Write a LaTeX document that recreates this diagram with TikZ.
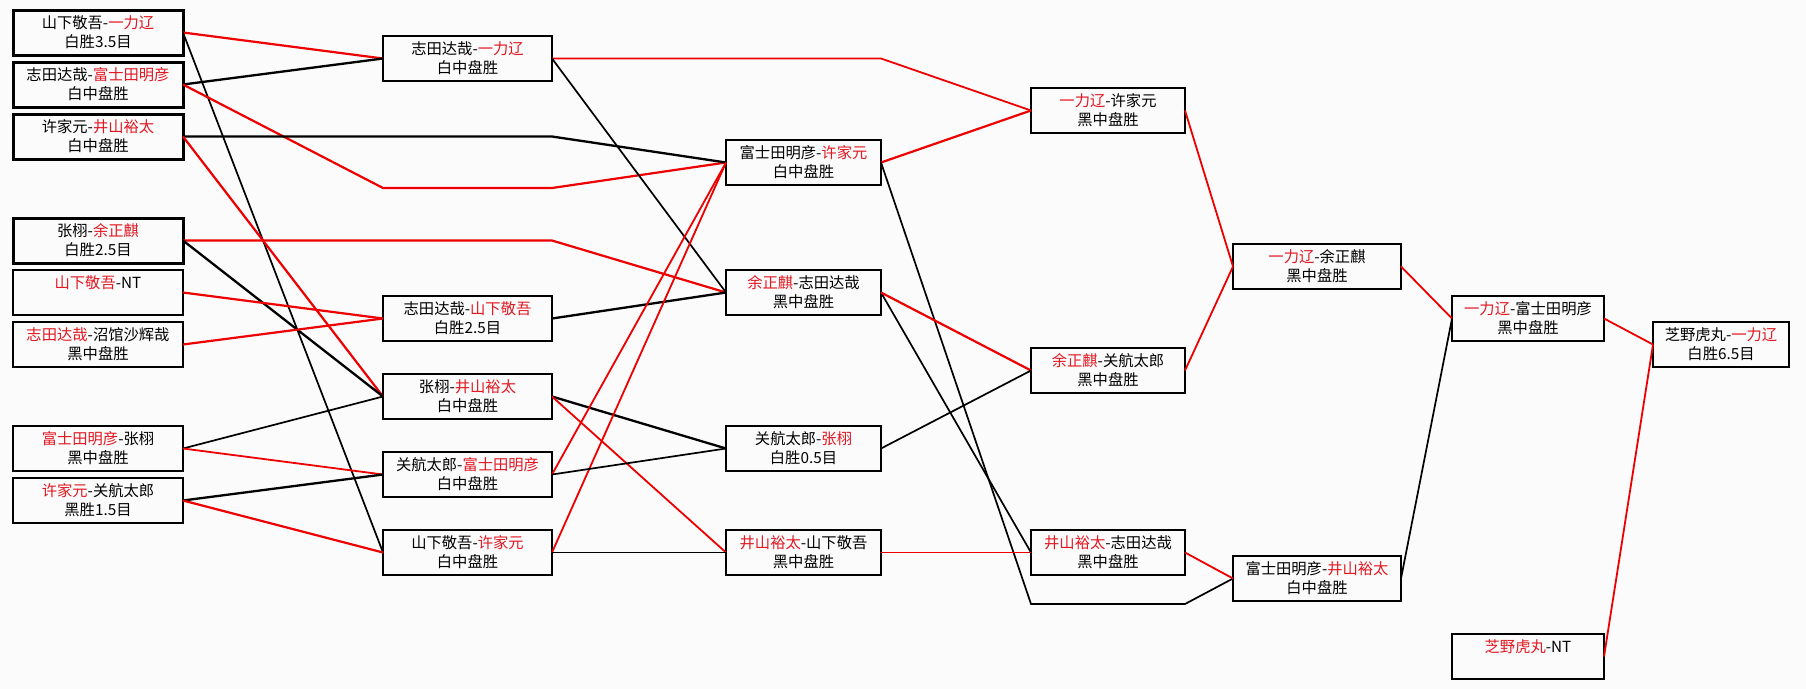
\documentclass[tikz,border=0pt]{standalone}
\usepackage{fontspec}
\setmainfont{Noto Sans CJK SC}
\definecolor{tred}{RGB}{226,24,34}
\definecolor{lred}{RGB}{238,0,0}
\definecolor{bgc}{RGB}{251,251,251}
\newcommand{\winner}[1]{\textcolor{tred}{#1}}
\newcommand{\boxfont}{\fontsize{15.3pt}{19pt}\selectfont}
\begin{document}
\begin{tikzpicture}[x=1pt,y=-1pt,
  bx/.style={draw=black, line width=#1, minimum height=45pt, inner sep=0pt, outer sep=0pt, align=center, font=\boxfont},
  bx/.default=1.8pt,
  cA/.style={minimum width=170pt},
  cB/.style={minimum width=169pt},
  cC/.style={minimum width=155pt},
  cD/.style={minimum width=154pt},
  cE/.style={minimum width=168pt},
  cF/.style={minimum width=152pt},
  cG/.style={minimum width=136pt},
  rthk/.style={draw=lred, line width=2.2pt},
  rthn/.style={draw=lred, line width=1.8pt},
  bthk/.style={draw=black, line width=2.3pt},
  bthn/.style={draw=black, line width=1.7pt}
]
\useasboundingbox (0,0) rectangle (1806,689);
\fill[bgc] (0,0) rectangle (1806,689);

% boxes
\node[bx=3pt, cA] (A1) at (98,32.5)  {山下敬吾-\winner{一力辽}\\白胜3.5目};
\node[bx=3pt, cA] (A2) at (98,84.5)  {志田达哉-\winner{富士田明彦}\\白中盘胜};
\node[bx=3pt, cA] (A3) at (98,136.5) {许家元-\winner{井山裕太}\\白中盘胜};
\node[bx=3pt, cA] (A4) at (98,240.5) {张栩-\winner{余正麒}\\白胜2.5目};
\node[bx=1.9pt, cA] (A5) at (98,292.5) {\winner{山下敬吾}-NT\\\phantom{白}};
\node[bx=2.5pt, cA] (A6) at (98,344.5) {\winner{志田达哉}-沼馆沙辉哉\\黑中盘胜};
\node[bx=1.7pt, cA] (A7) at (98,448.5) {\winner{富士田明彦}-张栩\\黑中盘胜};
\node[bx=2.5pt, cA] (A8) at (98,500.5) {\winner{许家元}-关航太郎\\黑胜1.5目};

\node[bx=1.9pt, cB] (B1) at (467.5,58.5)  {志田达哉-\winner{一力辽}\\白中盘胜};
\node[bx=1.9pt, cB] (B2) at (467.5,318.5) {志田达哉-\winner{山下敬吾}\\白胜2.5目};
\node[bx=2.5pt, cB] (B3) at (467.5,396.5) {张栩-\winner{井山裕太}\\白中盘胜};
\node[bx=1.7pt, cB] (B4) at (467.5,474.5) {关航太郎-\winner{富士田明彦}\\白中盘胜};
\node[bx=1.8pt, cB] (B5) at (467.5,552.5) {山下敬吾-\winner{许家元}\\白中盘胜};

\node[bx=2.6pt, cC] (C1) at (803.5,162.5) {富士田明彦-\winner{许家元}\\白中盘胜};
\node[bx=2.6pt, cC] (C2) at (803.5,292.5) {\winner{余正麒}-志田达哉\\黑中盘胜};
\node[bx=1.7pt, cC] (C3) at (803.5,448.5) {关航太郎-\winner{张栩}\\白胜0.5目};
\node[bx=1.8pt, cC] (C4) at (803.5,552.5) {\winner{井山裕太}-山下敬吾\\黑中盘胜};

\node[bx=1.9pt, cD] (D1) at (1108,110.5) {\winner{一力辽}-许家元\\黑中盘胜};
\node[bx=1.7pt, cD] (D2) at (1108,370.5) {\winner{余正麒}-关航太郎\\黑中盘胜};
\node[bx=1.8pt, cD] (D3) at (1108,552.5) {\winner{井山裕太}-志田达哉\\黑中盘胜};

\node[bx=1.8pt, cE] (E1) at (1317,266.5) {\winner{一力辽}-余正麒\\黑中盘胜};
\node[bx=1.8pt, cE] (E2) at (1317,578.5) {富士田明彦-\winner{井山裕太}\\白中盘胜};

\node[bx=1.8pt, cF] (F1) at (1528,318.5) {\winner{一力辽}-富士田明彦\\黑中盘胜};
\node[bx=1.8pt, cF] (F2) at (1528,656.5) {\winner{芝野虎丸}-NT\\\phantom{白}};

\node[bx=1.8pt, cG] (G1) at (1721,344.5) {芝野虎丸-\winner{一力辽}\\白胜6.5目};

% bend points
\coordinate (p1) at (383,188);
\coordinate (p2) at (552,188);
\coordinate (q1) at (1031,604);
\coordinate (q2) at (1185,604);

% round 1 -> 2
\draw[rthk] (A1.east) -- (B1.west);
\draw[bthk] (A2.east) -- (B1.west);
\draw[bthn] (A1.east) -- (B5.west);
\draw[rthk] (A2.east) -- (p1) -- (p2) -- (C1.west);
\draw[bthk] (A3.east) -- (A3.east -| B1.east) -- (C1.west);
\draw[rthk] (A3.east) -- (B3.west);
\draw[rthk] (A4.east) -- (A4.east -| B1.east) -- (C2.west);
\draw[bthk] (A4.east) -- (B3.west);
\draw[rthk] (A5.east) -- (B2.west);
\draw[rthk] (A6.east) -- (B2.west);
\draw[bthn] (A7.east) -- (B3.west);
\draw[rthn] (A7.east) -- (B4.west);
\draw[bthk] (A8.east) -- (B4.west);
\draw[rthk] (A8.east) -- (B5.west);
% round 2 -> 3
\draw[rthn] (B1.east) -- (B1.east -| C1.east) -- (D1.west);
\draw[bthn] (B1.east) -- (C2.west);
\draw[bthk] (B2.east) -- (C2.west);
\draw[bthk] (B3.east) -- (C3.west);
\draw[rthn] (B3.east) -- (C4.west);
\draw[rthn] (B4.east) -- (C1.west);
\draw[rthn] (B5.east) -- (C1.west);
\draw[bthn] (B4.east) -- (C3.west);
\draw[bthn] (B5.east) -- (C4.west);
% round 3 -> 4
\draw[rthk] (C1.east) -- (D1.west);
\draw[bthn] (C1.east) -- (q1) -- (q2) -- (E2.west);
\draw[bthn] (C2.east) -- (D3.west);
\draw[rthk] (C2.east) -- (D2.west);
\draw[bthn] (C3.east) -- (D2.west);
\draw[rthn] (C4.east) -- (D3.west);
% later rounds
\draw[rthn] (D1.east) -- (E1.west);
\draw[rthn] (D2.east) -- (E1.west);
\draw[rthn] (D3.east) -- (E2.west);
\draw[rthn] (E1.east) -- (F1.west);
\draw[bthn] (E2.east) -- (F1.west);
\draw[rthn] (F1.east) -- (G1.west);
\draw[rthn] (F2.east) -- (G1.west);
\end{tikzpicture}
\end{document}
